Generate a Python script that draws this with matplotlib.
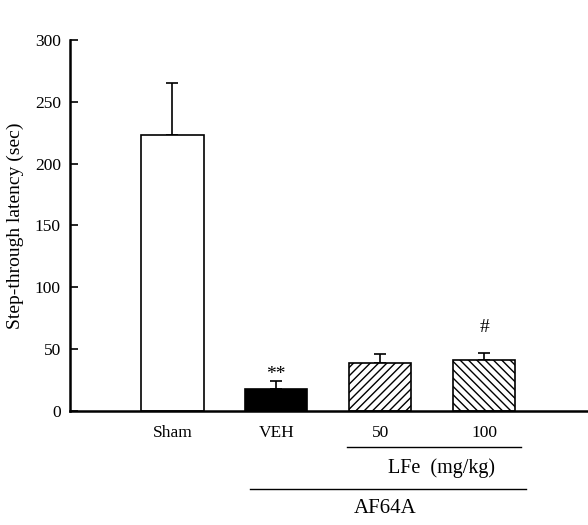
import matplotlib.pyplot as plt
from matplotlib.transforms import blended_transform_factory

plt.rcParams['font.family'] = ['Liberation Serif', 'DejaVu Serif']
plt.rcParams['hatch.linewidth'] = 1.0

# data
groups = ['Sham', 'VEH', '50', '100']
means = [223, 18, 39, 41]
errs = [42, 6, 7, 6]
marks = ['', '**', '', '#']
mark_y = [0, 23, 0, 61]
fills = ['white', 'black', 'white', 'white']
hatches = ['', '', '////', '\\\\\\\\']

fig = plt.figure(figsize=(5.88, 5.25), dpi=100)
ax = fig.add_axes([0.119, 0.217, 0.881, 0.707])

x = list(range(len(groups)))
for i in x:
    ax.bar(i, means[i], width=0.6, color=fills[i], edgecolor='black',
           linewidth=1.2, hatch=hatches[i], zorder=2)
    ax.errorbar(i, means[i], yerr=[[0], [errs[i]]], fmt='none',
                ecolor='black', elinewidth=1.2, capsize=4.3, capthick=1.2,
                zorder=1)
    if marks[i]:
        ax.text(i, mark_y[i], marks[i], ha='center', va='bottom',
                fontsize=14)

ax.set_xlim(-0.985, 4.0)
ax.set_ylim(0, 300)
ax.set_yticks(range(0, 301, 50))
ax.set_xticks([])
ax.spines['top'].set_visible(False)
ax.spines['right'].set_visible(False)
ax.spines['left'].set_linewidth(1.8)
ax.spines['bottom'].set_linewidth(1.8)
ax.tick_params(axis='y', direction='in', length=6, width=1.2,
               labelsize=12.5, pad=6.5)
ax.set_ylabel('Step-through latency (sec)', fontsize=14, labelpad=8)

# group labels under the axis
tr = blended_transform_factory(ax.transData, ax.transAxes)
for i in x:
    ax.text(i, -0.06, groups[i], transform=tr, ha='center', va='center',
            fontsize=12.5)

ax.plot([1.685, 3.358], [-0.097, -0.097], transform=tr, color='black',
        linewidth=1.0, clip_on=False)
ax.text(2.59, -0.155, 'LFe  (mg/kg)', transform=tr, ha='center',
        va='center', fontsize=14.5)
ax.plot([0.745, 3.406], [-0.210, -0.210], transform=tr, color='black',
        linewidth=1.0, clip_on=False)
ax.text(2.05, -0.262, 'AF64A', transform=tr, ha='center', va='center',
        fontsize=15)

fig.savefig('out.png', dpi=100)
